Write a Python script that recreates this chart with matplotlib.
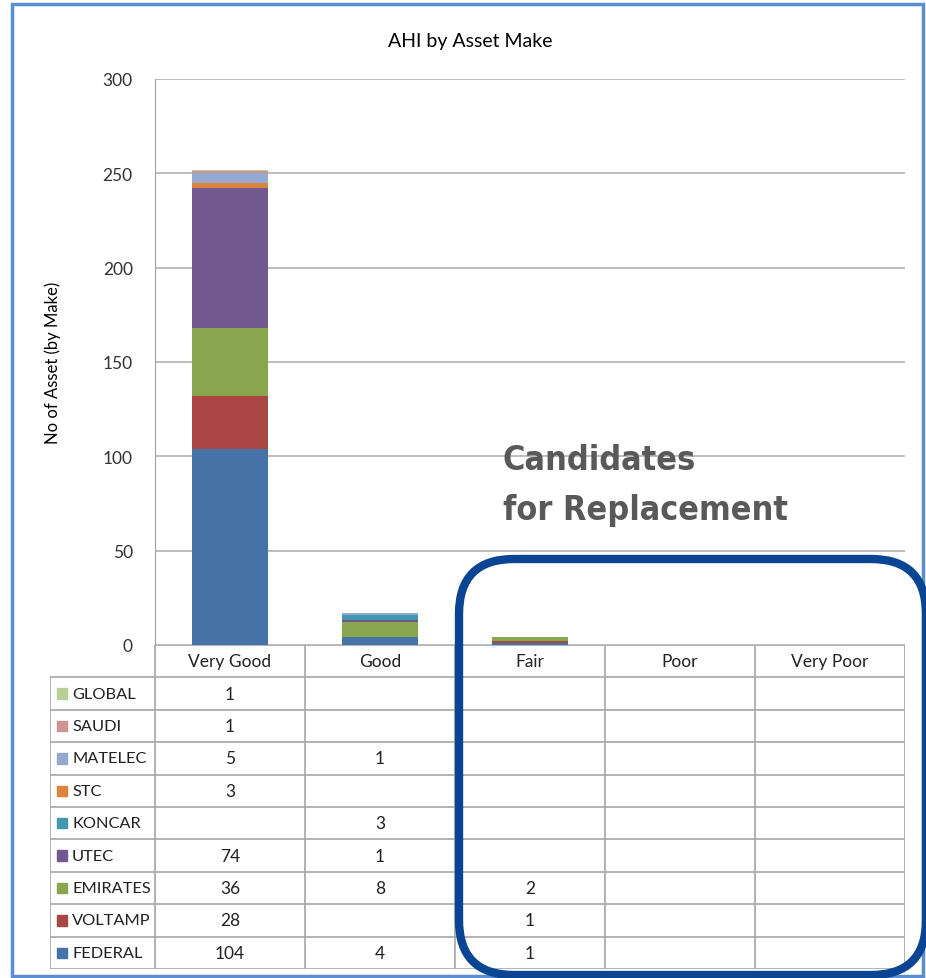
import numpy as np
import matplotlib
matplotlib.use("Agg")
import matplotlib.pyplot as plt
from matplotlib.patches import Rectangle, FancyBboxPatch

plt.rcParams['font.family'] = ['Lato', 'DejaVu Sans']

# data
categories = ["Very Good", "Good", "Fair", "Poor", "Very Poor"]
makes = ["FEDERAL", "VOLTAMP", "EMIRATES", "UTEC", "KONCAR", "STC", "MATELEC", "SAUDI", "GLOBAL"]
federal = [104, 4, 1, 0, 0]
voltamp = [28, 0, 1, 0, 0]
emirates = [36, 8, 2, 0, 0]
utec = [74, 1, 0, 0, 0]
koncar = [0, 3, 0, 0, 0]
stc = [3, 0, 0, 0, 0]
matelec = [5, 1, 0, 0, 0]
saudi = [1, 0, 0, 0, 0]
global_ = [1, 0, 0, 0, 0]
series = [federal, voltamp, emirates, utec, koncar, stc, matelec, saudi, global_]
colors = ["#4572A7", "#AA4643", "#89A54E", "#71588F", "#4198AF",
          "#DB843D", "#93A9CF", "#D19392", "#B9CD96"]
yticks = [0, 50, 100, 150, 200, 250, 300]

W, H = 926, 979
fig = plt.figure(figsize=(W / 100, H / 100), dpi=100)

def box(l, t, r, b):
    return [l / W, 1 - b / H, (r - l) / W, (b - t) / H]

# bars
ax = fig.add_axes(box(155, 80, 905, 646))
x = np.arange(len(categories))
bottom = np.zeros(len(categories))
for vals, c in zip(series, colors):
    ax.bar(x, vals, width=0.51, bottom=bottom, color=c, zorder=3)
    bottom += np.array(vals)
ax.set_xlim(-0.5, 4.5)
ax.set_ylim(0, 300)
ax.set_yticks(yticks)
ax.set_xticks([])
ax.tick_params(axis='y', length=0, labelsize=12.5, pad=16, colors='#333333')
ax.grid(axis='y', color='#b8b8b8', linewidth=1.3, zorder=0)
for s in ['top', 'right', 'bottom']:
    ax.spines[s].set_visible(False)
ax.spines['left'].set_color('#a0a0a0')
ax.set_ylabel("No of Asset (by Make)", fontsize=12, labelpad=30)
ax.set_title("AHI by Asset Make", fontsize=14, pad=24, x=0.42)

# data table
tb = fig.add_axes(box(50, 646, 905, 970))
tb.set_xlim(-1.2, 4.5)
tb.set_ylim(10, 0)
tb.axis('off')
lc = '#a6a6a6'
tb.plot([-0.5, 4.5], [0, 0], color=lc, lw=1.2)
for r in range(1, 11):
    tb.plot([-1.2, 4.5], [r, r], color=lc, lw=1.2)
tb.plot([-1.2, -1.2], [1, 10], color=lc, lw=1.2)
for c in range(6):
    tb.plot([c - 0.5, c - 0.5], [0, 10], color=lc, lw=1.2)
for i, cat in enumerate(categories):
    tb.text(i, 0.5, cat, ha='center', va='center', fontsize=12.5, color='#222222')
for row, idx in enumerate(range(len(makes) - 1, -1, -1)):
    y = row + 1.5
    tb.add_patch(Rectangle((-1.153, y - 0.16), 0.067, 0.32, color=colors[idx]))
    tb.text(-1.053, y, makes[idx], ha='left', va='center', fontsize=11.8, color='#222222')
    for i, v in enumerate(series[idx]):
        if v:
            tb.text(i, y, str(v), ha='center', va='center', fontsize=12.5, color='#222222')

# overlay: frame, annotation, highlight box
ov = fig.add_axes([0, 0, 1, 1])
ov.set_xlim(0, W)
ov.set_ylim(H, 0)
ov.axis('off')
ov.patch.set_alpha(0)
ov.add_patch(Rectangle((12, 5), 911, 972, fill=False, ec='#5b8ed1', lw=2.5))
for txt, yb in [("Candidates", 470), ("for Replacement", 520)]:
    ov.text(503, yb, txt, fontsize=24.5, fontweight='bold', fontstretch='condensed',
            family=['DejaVu Sans'], color='#595959', ha='left', va='baseline')
ov.add_patch(FancyBboxPatch((459, 560), 467, 416,
                            boxstyle="round,pad=0,rounding_size=55",
                            fill=False, ec='#0a4594', lw=6))

fig.savefig("out.png", dpi=100)
